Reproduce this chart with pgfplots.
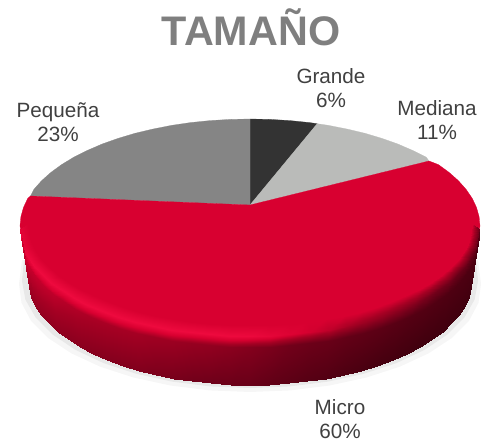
\documentclass[border=0pt]{standalone}
\usepackage{fontspec}
\setmainfont{Liberation Sans}
\usepackage{pgfplots}
\pgfplotsset{compat=1.18}

\definecolor{sliceGrande}{RGB}{51,51,51}
\definecolor{sliceMediana}{RGB}{186,187,185}
\definecolor{slicePequena}{RGB}{133,133,133}
\definecolor{sliceMicro}{RGB}{216,0,48}
\definecolor{titleGrey}{RGB}{127,127,127}
\definecolor{labelGrey}{RGB}{64,64,64}
\definecolor{shadowA}{RGB}{246,246,246}
\definecolor{shadowB}{RGB}{232,232,232}

\begin{document}
\begin{tikzpicture}
\begin{axis}[
	scale only axis,
	width=361.5bp, height=333.75bp,
	xmin=0, xmax=482, ymin=0, ymax=445,
	y dir=reverse,
	hide axis,
	colormap={piered}{rgb255(0)=(55,0,12) rgb255(30)=(110,0,25) rgb255(60)=(165,0,35) rgb255(80)=(216,0,48) rgb255(100)=(238,10,62)},
	point meta min=0, point meta max=1,
	every axis plot/.style={draw=none},
]

% shadow under the pie
\addplot[fill=shadowA] coordinates {(22,260) (19,284) (21.5,302.8) (31,320.9) (48.2,338) (71.5,353.4) (100.2,366.7) (133.5,377.5) (170.3,385.5) (209.5,390.4) (250,392) (290.5,390.4) (329.7,385.5) (366.5,377.5) (399.8,366.7) (428.5,353.4) (451.8,338) (469,320.9) (478.5,302.8) (481,284) (478,260)} -- cycle;
\addplot[fill=shadowB] coordinates {(24,260) (22,281) (25.4,299.6) (35.7,317.6) (52.6,334.5) (75.4,349.8) (103.4,363) (136,373.7) (172,381.6) (210.3,386.4) (250,388) (289.7,386.4) (328,381.6) (364,373.7) (396.6,363) (424.6,349.8) (447.4,334.5) (464.3,317.6) (474.6,299.6) (478,281) (476,260)} -- cycle;

% Grande 6%
\addplot[fill=sliceGrande, draw=sliceGrande, line width=.2pt] coordinates {(250,205) (250,119) (270,119.4) (289.9,120.6) (309.6,122.6) (317.2,123.7)} -- cycle;
% Mediana 11%
\addplot[fill=sliceMediana, draw=sliceMediana, line width=.2pt] coordinates {(250,205) (317.2,123.7) (328.7,125.4) (347.3,129.1) (365,133.3) (382,138.4) (397.8,144) (412.6,150.4) (426.2,157.2) (429,161)} -- cycle;
% Pequena 23%
\addplot[fill=slicePequena, draw=slicePequena, line width=.2pt] coordinates {(250,205) (30.5,196) (33.9,189.4) (41.6,180.7) (50.8,172.5) (61.6,164.6) (73.8,157.2) (87.4,150.4) (102.2,144) (118,138.4) (135,133.3) (152.7,129.1) (171.3,125.4) (190.4,122.6) (210.1,120.6) (230,119.4) (250,119)} -- cycle;
% Micro 60%
\addplot[fill=sliceMicro, draw=sliceMicro, line width=.2pt] coordinates {(250,205) (429,161) (438.4,164.6) (449.2,172.5) (458.4,180.7) (466.1,189.4) (472.2,198.3) (476.5,207.4) (479.1,216.7) (480,226) (476.5,244.6) (466.1,262.6) (449.2,279.5) (426.2,294.8) (397.8,308) (365,318.7) (328.7,326.6) (289.9,331.4) (250,333) (210.1,331.4) (171.3,326.6) (135,318.7) (102.2,308) (73.8,294.8) (50.8,279.5) (33.9,262.6) (23.5,244.6) (20,226) (20.9,216.7) (23.5,207.4) (27.8,198.3) (30.5,196)} -- cycle;

% rim of the red slice, four rows of 37 points
\addplot[surf, shader=interp, mesh/rows=4, mesh/cols=37, point meta=explicit] table[x=x, y=y, meta=m] {
x y m
28 224 .8
28.9 232.8 .8
31.3 241.6 .8
35.5 250.2 .8
41.3 258.5 .8
48.9 266.7 .8
57.7 274.5 .8
68.2 282 .8
80 288.9 .8
93 295.4 .8
107.3 301.4 .8
122.6 306.7 .8
139 311.5 .8
156.1 315.5 .8
174.1 318.9 .8
192.5 321.6 .8
211.4 323.5 .8
230.7 324.6 .8
250 325 .8
269.3 324.6 .8
288.6 323.5 .8
307.5 321.6 .8
325.9 318.9 .8
343.9 315.5 .8
361 311.5 .8
377.4 306.7 .8
392.7 301.4 .8
407 295.4 .8
420 288.9 .8
431.8 282 .8
442.3 274.5 .8
451.1 266.7 .8
458.7 258.5 .8
464.5 250.2 .8
468.7 241.6 .8
471.1 232.8 .8
472 224 .8
20 229 .9
20.9 238.3 .93
23.5 247.6 .95
27.8 256.7 .98
33.9 265.6 1
41.6 274.3 1
50.8 282.5 1
61.6 290.4 1
73.8 297.8 1
87.4 304.6 1
102.2 311 1
118 316.6 1
135 321.7 1
152.7 326 1
171.3 329.6 1
190.4 332.4 1
210.1 334.4 1
230 335.6 .99
250 336 .98
270 335.6 .92
289.9 334.4 .85
309.6 332.4 .78
328.7 329.6 .7
347.3 326 .62
365 321.7 .55
382 316.6 .5
397.8 311 .45
412.6 304.6 .4
426.2 297.8 .35
438.4 290.4 .32
449.2 282.5 .3
458.4 274.3 .27
466.1 265.6 .25
472.2 256.7 .23
476.5 247.6 .22
479.1 238.3 .21
480 229 .2
22 240 .75
22.9 249.3 .75
25.4 258.6 .75
29.8 267.7 .73
35.7 276.6 .72
43.4 285.3 .71
52.6 293.5 .7
63.3 301.4 .67
75.4 308.8 .65
88.8 315.6 .63
103.4 322 .62
119.1 327.6 .61
136 332.7 .6
153.6 336.9 .57
172 340.6 .55
190.9 343.4 .52
210.3 345.4 .5
230.2 346.6 .46
250 347 .42
269.8 346.6 .37
289.7 345.4 .32
309.1 343.4 .29
328 340.6 .27
346.4 336.9 .24
364 332.7 .22
380.9 327.6 .2
396.6 322 .18
411.2 315.6 .16
424.6 308.8 .15
436.7 301.4 .14
447.4 293.5 .13
456.6 285.3 .12
464.3 276.6 .12
470.2 267.7 .12
474.6 258.6 .12
477.1 249.3 .12
478 240 .12
28 278 .55
28.9 287.3 .53
31.3 296.6 .52
35.5 305.7 .51
41.3 314.6 .5
48.9 323.3 .49
57.7 331.5 .48
68.2 339.4 .46
79.9 346.8 .45
93 353.6 .43
107.3 360 .42
122.6 365.6 .41
139 370.7 .4
156.1 374.9 .37
174.1 378.6 .35
192.5 381.4 .32
211.4 383.4 .3
230.7 384.6 .28
250 385 .27
269.3 384.6 .23
288.6 383.4 .2
307.5 381.4 .17
325.9 378.6 .15
343.9 374.9 .12
361 370.7 .1
377.4 365.6 .08
392.7 360 .07
407 353.6 .06
420.1 346.8 .05
431.8 339.4 .05
442.7 331.5 .05
451.1 323.3 .05
458.7 314.6 .05
464.5 305.7 .05
468.7 296.6 .05
471.1 287.3 .06
472 278 .07
};

\node[font=\bfseries\fontsize{31bp}{36bp}\selectfont, text=titleGrey, anchor=base] at (axis cs:251,45) {TAMAÑO};

\node[font=\fontsize{15.5bp}{18.4bp}\selectfont, text=labelGrey, align=center] at (axis cs:331,88) {Grande\\6\%};
\node[font=\fontsize{15.5bp}{18.4bp}\selectfont, text=labelGrey, align=center] at (axis cs:437,120) {Mediana\\11\%};
\node[font=\fontsize{15.5bp}{18.4bp}\selectfont, text=labelGrey, align=center] at (axis cs:58,122) {Pequeña\\23\%};
\node[font=\fontsize{15.5bp}{18.4bp}\selectfont, text=labelGrey, align=center] at (axis cs:340,419) {Micro\\60\%};
\end{axis}
% page is the full axis rectangle, not the tight box of what is drawn
\pgfresetboundingbox
\path[use as bounding box] (0,0) rectangle (361.5bp,333.75bp);
\end{tikzpicture}
\end{document}
